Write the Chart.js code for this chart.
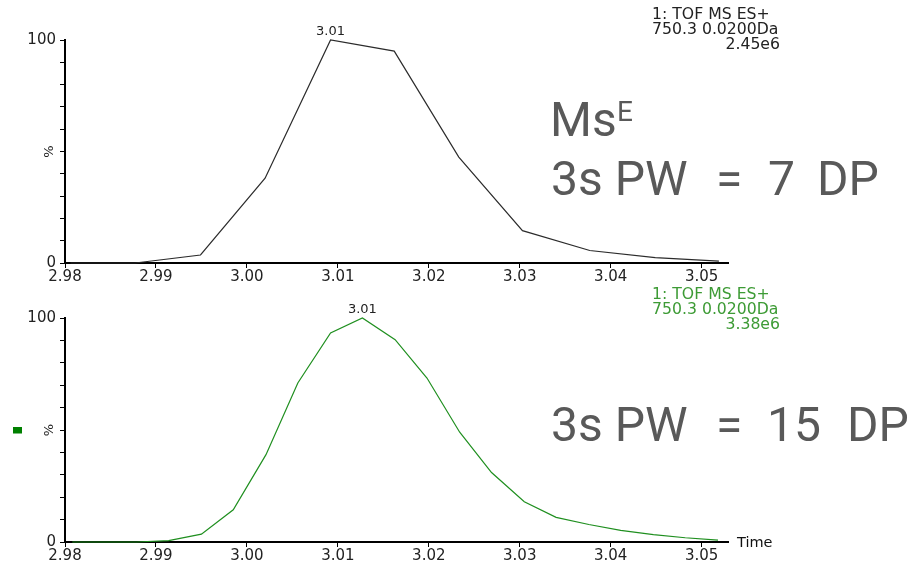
<!DOCTYPE html>
<html lang="en">
<head>
  <meta charset="UTF-8">
  <title>TOF MS ES+ 750.3 chromatograms</title>
  <script src="https://cdn.jsdelivr.net/npm/chart.js"></script>
  <style>
    body {
      margin: 0;
      background: #ffffff;
      width: 917px;
      height: 564px;
      position: relative;
      overflow: hidden;
    }
    canvas {
      position: absolute;
      left: 0;
    }
    #topChart { top: 0; }
    #bottomChart { top: 284px; }
    .big {
      position: absolute;
      font-family: Roboto, sans-serif;
      font-size: 48px;
      line-height: 48px;
      color: #595959;
      white-space: pre;
    }
    .sup {
      position: absolute;
      font-family: Roboto, sans-serif;
      font-size: 28px;
      line-height: 28px;
      color: #595959;
    }
  </style>
</head>
<body>
  <canvas id="topChart" width="917" height="284"></canvas>
  <canvas id="bottomChart" width="917" height="280"></canvas>

  <div class="big" style="left:550px; top:96px;">Ms</div>
  <div class="sup" style="left:617px; top:98px;">E</div>
  <div class="big" style="left:551px; top:155px;">3s PW</div>
  <div class="big" style="left:716px; top:155px;">=</div>
  <div class="big" style="left:768px; top:155px;">7</div>
  <div class="big" style="left:817px; top:155px;">DP</div>

  <div class="big" style="left:551px; top:401px;">3s PW</div>
  <div class="big" style="left:716px; top:401px;">=</div>
  <div class="big" style="left:767px; top:401px;">15</div>
  <div class="big" style="left:847px; top:401px;">DP</div>

  <script>
    // 7 data points across the peak (top trace)
    const topTimes = [2.9806, 2.9877, 2.9949, 3.0020, 3.0092, 3.0162, 3.0233, 3.0303, 3.0377, 3.0449, 3.0519];
    const topValues = [0, 0, 3.6, 38, 100, 95, 47.5, 14.5, 5.6, 2.4, 0.8];
    const topHeader = ['1: TOF MS ES+', '750.3 0.0200Da', '2.45e6'];

    // 15 data points across the peak (bottom trace)
    const bottomTimes = [2.9808, 2.9843, 2.9879, 2.9914, 2.9950, 2.9985, 3.0021, 3.0056, 3.0092, 3.0127, 3.0163,
                         3.0198, 3.0234, 3.0269, 3.0305, 3.0340, 3.0376, 3.0411, 3.0447, 3.0482, 3.0518];
    const bottomValues = [0, 0, 0, 0.6, 3.5, 14.4, 39, 71, 93.3, 100, 90.3,
                          73.2, 49, 31, 18, 11, 7.8, 5.2, 3.3, 1.9, 0.8];
    const bottomHeader = ['1: TOF MS ES+', '750.3 0.0200Da', '3.38e6'];

    const xMin = 2.98;
    const xMax = 3.0529;
    const smallFont = 'DejaVu Sans';

    // draws header text, peak label, % label and the Time label
    const decorations = {
      id: 'decorations',
      afterDraw(chart, args, opts) {
        const ctx = chart.ctx;
        const area = chart.chartArea;
        const xs = chart.scales.x;
        const ys = chart.scales.y;
        ctx.save();

        // header block
        ctx.fillStyle = opts.headerColor;
        ctx.font = '15.7px ' + smallFont;
        ctx.textBaseline = 'middle';
        ctx.textAlign = 'left';
        ctx.fillText(opts.header[0], 652, opts.headerY);
        ctx.fillText(opts.header[1], 652, opts.headerY + 15);
        ctx.textAlign = 'right';
        ctx.fillText(opts.header[2], 780, opts.headerY + 29.5);

        // peak label at the apex
        const data = chart.data.datasets[0].data;
        let peak = data[0];
        data.forEach(p => { if (p.y > peak.y) peak = p; });
        ctx.fillStyle = '#222';
        ctx.font = '13px ' + smallFont;
        ctx.textAlign = 'center';
        ctx.fillText(peak.x.toFixed(2), xs.getPixelForValue(peak.x), ys.getPixelForValue(peak.y) - 8);

        // rotated % label at mid-height
        ctx.save();
        ctx.translate(50, ys.getPixelForValue(50));
        ctx.rotate(-Math.PI / 2);
        ctx.font = '13px ' + smallFont;
        ctx.fillText('%', 0, 0);
        ctx.restore();

        if (opts.showTime) {
          ctx.textAlign = 'left';
          ctx.font = '14.5px ' + smallFont;
          ctx.fillStyle = '#111';
          ctx.fillText('Time', area.right + 9, area.bottom + 1);
        }
        if (opts.marker) {
          ctx.fillStyle = '#008000';
          ctx.fillRect(13, ys.getPixelForValue(50) - 3, 9, 6.5);
        }
        ctx.restore();
      }
    };

    function makeChart(id, times, values, color, topPad, xHeight, decoOpts) {
      const points = times.map((t, i) => ({ x: t, y: values[i] }));
      return new Chart(document.getElementById(id), {
        type: 'line',
        data: {
          datasets: [{
            data: points,
            borderColor: color,
            borderWidth: 1.2,
            pointRadius: 0,
            tension: 0,
            fill: false,
            clip: false
          }]
        },
        options: {
          responsive: false,
          animation: false,
          events: [],
          layout: { padding: { left: 0, right: 189, top: topPad, bottom: 0 } },
          plugins: {
            legend: { display: false },
            tooltip: { enabled: false },
            decorations: decoOpts
          },
          scales: {
            x: {
              type: 'linear',
              min: xMin,
              max: xMax,
              afterFit: s => { s.height = xHeight; },
              border: { display: true, color: '#000', width: 2 },
              grid: { drawOnChartArea: false, drawTicks: true, tickLength: 5, color: '#000', lineWidth: 1 },
              ticks: {
                stepSize: 0.01,
                includeBounds: false,
                autoSkip: false,
                maxRotation: 0,
                padding: 0,
                color: '#222',
                font: { family: smallFont, size: 15 },
                callback: v => v.toFixed(2)
              }
            },
            y: {
              min: 0,
              max: 100,
              afterFit: s => { s.width = 65; },
              border: { display: true, color: '#000', width: 2 },
              grid: { drawOnChartArea: false, drawTicks: true, tickLength: 5, color: '#000', lineWidth: 1 },
              ticks: {
                stepSize: 10,
                autoSkip: false,
                padding: 4,
                color: '#222',
                font: { family: smallFont, size: 15 },
                callback: v => (v === 0 || v === 100) ? String(v) : ''
              }
            }
          }
        },
        plugins: [decorations]
      });
    }

    makeChart('topChart', topTimes, topValues, '#2b2b2b', 40, 21,
      { header: topHeader, headerColor: '#222', headerY: 15, showTime: false, marker: false });
    makeChart('bottomChart', bottomTimes, bottomValues, '#1f8f1f', 34, 22,
      { header: bottomHeader, headerColor: '#3d9b35', headerY: 11, showTime: true, marker: true });
  </script>
</body>
</html>
